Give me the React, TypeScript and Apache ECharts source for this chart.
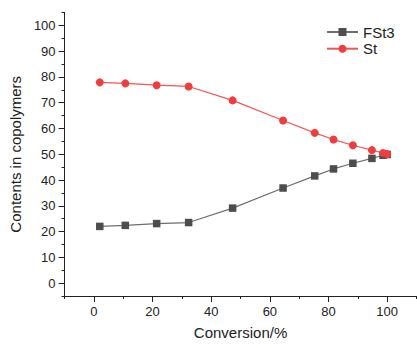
import React, { useEffect, useRef } from "react";
import * as echarts from "echarts";

const conversion = [2, 10.7, 21.4, 32.3, 47.3, 64.5, 75.3, 81.7, 88.3, 94.8, 98.6, 100];
const fst3 = [22.0, 22.4, 23.1, 23.5, 29.1, 36.9, 41.6, 44.3, 46.5, 48.4, 49.6, 49.9];
const st = [77.9, 77.5, 76.8, 76.3, 70.9, 63.1, 58.3, 55.7, 53.5, 51.6, 50.5, 50.1];
const xMajor = [0, 20, 40, 60, 80, 100];
const xMinor = [-10, 10, 30, 50, 70, 90, 110];
const yMajor = [0, 10, 20, 30, 40, 50, 60, 70, 80, 90, 100];
const yMinor = [-5, 5, 15, 25, 35, 45, 55, 65, 75, 85, 95, 105];

const FONT = "Liberation Sans, Arial, sans-serif";

export default function App() {
  const ref = useRef<HTMLDivElement>(null);
  useEffect(() => {
    if (!ref.current) return;
    const chart = echarts.init(ref.current, undefined, { renderer: "svg" });
    const axisColor = "#222";
    const baseX = {
      type: "value",
      min: -10,
      max: 110,
      splitLine: { show: false },
    };
    const baseY = {
      type: "value",
      min: -5,
      max: 105,
      splitLine: { show: false },
    };
    chart.setOption({
      animation: false,
      textStyle: { fontFamily: FONT },
      grid: { left: 57.5, right: 0.5, top: 12.5, bottom: 45, containLabel: false },
      legend: {
        orient: "vertical",
        left: 321,
        top: 19.5,
        itemWidth: 31,
        itemHeight: 10,
        itemGap: 1.7,
        textStyle: { fontSize: 15, color: "#222", fontFamily: FONT },
        data: ["FSt3", "St"],
      },
      xAxis: [
        {
          ...baseX,
          name: "Conversion/%",
          nameLocation: "middle",
          nameGap: 29,
          nameTextStyle: { fontSize: 15, color: "#222", fontFamily: FONT },
          axisLine: { show: true, onZero: false, lineStyle: { color: axisColor, width: 1 } },
          axisTick: { show: true, length: 6, customValues: xMajor, lineStyle: { color: axisColor } },
          axisLabel: { customValues: xMajor, fontSize: 13, color: "#222", margin: 9, fontFamily: FONT },
        },
        {
          ...baseX,
          position: "bottom",
          axisLine: { show: false, onZero: false },
          axisTick: { show: true, length: 3, customValues: xMinor, lineStyle: { color: axisColor } },
          axisLabel: { show: false },
        },
      ],
      yAxis: [
        {
          ...baseY,
          name: "Contents in copolymers",
          nameLocation: "middle",
          nameGap: 33,
          nameTextStyle: { fontSize: 15, color: "#222", fontFamily: FONT },
          axisLine: { show: true, onZero: false, lineStyle: { color: axisColor, width: 1 } },
          axisTick: { show: true, length: 6, customValues: yMajor, lineStyle: { color: axisColor } },
          axisLabel: { customValues: yMajor, fontSize: 13, color: "#222", margin: 9, fontFamily: FONT },
        },
        {
          ...baseY,
          position: "left",
          axisLine: { show: false, onZero: false },
          axisTick: { show: true, length: 3, customValues: yMinor, lineStyle: { color: axisColor } },
          axisLabel: { show: false },
        },
      ],
      series: [
        {
          name: "FSt3",
          type: "line",
          data: conversion.map((x, i) => [x, fst3[i]]),
          symbol: "rect",
          symbolSize: 7.5,
          itemStyle: { color: "#4d4d4d" },
          lineStyle: { color: "#6e6e6e", width: 1.2 },
          z: 2,
        },
        {
          name: "St",
          type: "line",
          data: conversion.map((x, i) => [x, st[i]]),
          symbol: "circle",
          symbolSize: 8,
          itemStyle: { color: "#f03c3c" },
          lineStyle: { color: "#f25555", width: 1.2 },
          z: 3,
        },
      ],
    });
    return () => chart.dispose();
  }, []);
  return (
    <div
      ref={ref}
      style={{ position: "fixed", left: 0, top: 0, width: 417, height: 345, background: "#fff" }}
    />
  );
}
